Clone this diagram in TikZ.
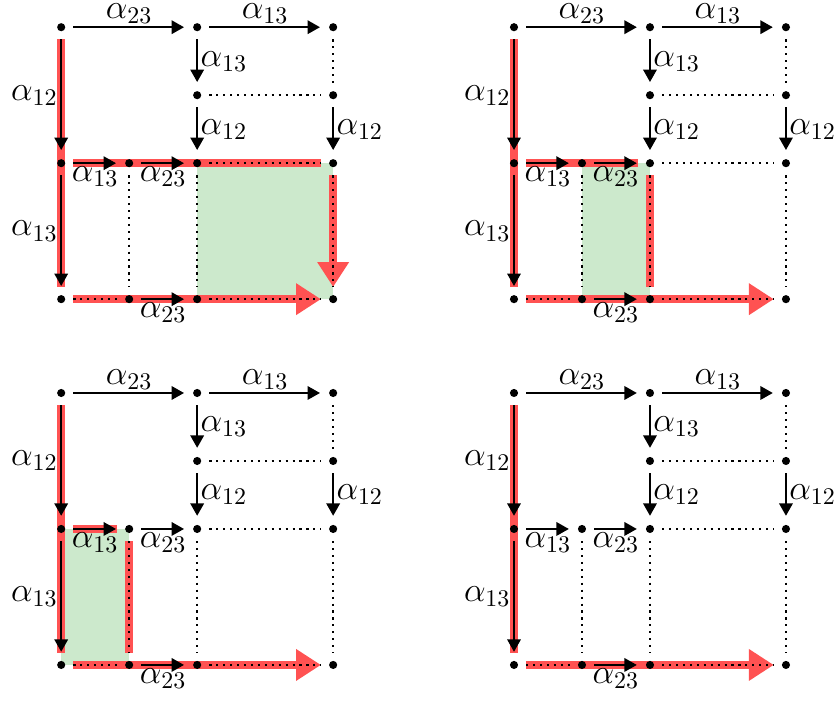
\documentclass[tikz,border=0pt]{standalone}
\usepackage{amsmath}
\usepackage{tikz}
\usetikzlibrary{arrows.meta,backgrounds}
\definecolor{hlred}{RGB}{255,82,82}
\definecolor{regiongreen}{RGB}{204,233,204}

% one grid panel: #1 name prefix, #2 #3 position of its top-left dot
\newcommand{\gridpanel}[3]{%
  \begin{scope}[shift={(#2,#3)}]
    \node[dot] (#1r0c0) at (0,0) {};
    \node[dot] (#1r0c2) at (2,0) {};
    \node[dot] (#1r0c3) at (4,0) {};
    \node[dot] (#1r1c2) at (2,-1) {};
    \node[dot] (#1r1c3) at (4,-1) {};
    \node[dot] (#1r2c0) at (0,-2) {};
    \node[dot] (#1r2c1) at (1,-2) {};
    \node[dot] (#1r2c2) at (2,-2) {};
    \node[dot] (#1r2c3) at (4,-2) {};
    \node[dot] (#1r3c0) at (0,-4) {};
    \node[dot] (#1r3c1) at (1,-4) {};
    \node[dot] (#1r3c2) at (2,-4) {};
    \node[dot] (#1r3c3) at (4,-4) {};
  \end{scope}
  \draw[arr] (#1r0c0) -- node[lbl, above] {$\alpha_{23}$} (#1r0c2);
  \draw[arr] (#1r0c2) -- node[lbl, above] {$\alpha_{13}$} (#1r0c3);
  \draw[arr] (#1r0c0) -- node[lbl, left]  {$\alpha_{12}$} (#1r2c0);
  \draw[arr] (#1r0c2) -- node[lbl, right] {$\alpha_{13}$} (#1r1c2);
  \draw[arr] (#1r1c2) -- node[lbl, right] {$\alpha_{12}$} (#1r2c2);
  \draw[arr] (#1r1c3) -- node[lbl, right] {$\alpha_{12}$} (#1r2c3);
  \draw[arr] (#1r2c0) -- node[lbl, below] {$\alpha_{13}$} (#1r2c1);
  \draw[arr] (#1r2c1) -- node[lbl, below] {$\alpha_{23}$} (#1r2c2);
  \draw[arr] (#1r2c0) -- node[lbl, left]  {$\alpha_{13}$} (#1r3c0);
  \draw[arr] (#1r3c1) -- node[lbl, below] {$\alpha_{23}$} (#1r3c2);
  \draw[dotline] (#1r0c3) -- (#1r1c3);
  \draw[dotline] (#1r1c2) -- (#1r1c3);
  \draw[dotline] (#1r2c2) -- (#1r2c3);
  \draw[dotline] (#1r2c1) -- (#1r3c1);
  \draw[dotline] (#1r2c2) -- (#1r3c2);
  \draw[dotline] (#1r2c3) -- (#1r3c3);
  \draw[dotline] (#1r3c0) -- (#1r3c1);
  \draw[dotline] (#1r3c2) -- (#1r3c3);
}

\begin{document}
\begin{tikzpicture}[
  font=\Large,
  dot/.style={circle, fill=black, inner sep=0pt, minimum size=3.4pt},
  arr/.style={-{Triangle[length=5.2pt, width=5.6pt]}, line width=0.9pt, shorten <=3.2pt, shorten >=3.6pt},
  dotline/.style={line width=0.9pt, dotted, shorten <=3.2pt, shorten >=3.2pt},
  lbl/.style={inner sep=1pt},
  hl/.style={draw=hlred, line width=3.4pt, shorten <=3.2pt, shorten >=3.2pt},
  hlarr/.style={hl, -{Triangle[length=10.4pt, width=12.6pt]}},
  region/.style={fill=regiongreen},
]
\useasboundingbox (-0.9,0.4) rectangle (11.44,-9.9);

% ============================================================
% FOUR PANELS
% ============================================================
\def\xa{0}\def\xb{6.66}
\def\ya{0}\def\yb{-5.38}

\gridpanel{A}{\xa}{\ya}
\gridpanel{B}{\xb}{\ya}
\gridpanel{C}{\xa}{\yb}
\gridpanel{D}{\xb}{\yb}

% ============================================================
% HIGHLIGHTED PATHS (behind the grid)
% ============================================================
\begin{scope}[on background layer]
  % top left
  \fill[region] (Ar2c2.center) rectangle (Ar3c3.center);
  \draw[hl] (Ar0c0) -- (Ar3c0);
  \draw[hl] (Ar2c0) -- (Ar2c3);
  \draw[hlarr] (Ar2c3) -- (Ar3c3);
  \draw[hlarr] (Ar3c0) -- (Ar3c3);

  % top right
  \fill[region] (Br2c1.center) rectangle (Br3c2.center);
  \draw[hl] (Br0c0) -- (Br3c0);
  \draw[hl] (Br2c0) -- (Br2c2);
  \draw[hl] (Br2c2) -- (Br3c2);
  \draw[hlarr] (Br3c0) -- (Br3c3);

  % bottom left
  \fill[region] (Cr2c0.center) rectangle (Cr3c1.center);
  \draw[hl] (Cr0c0) -- (Cr3c0);
  \draw[hl] (Cr2c0) -- (Cr2c1);
  \draw[hl] (Cr2c1) -- (Cr3c1);
  \draw[hlarr] (Cr3c0) -- (Cr3c3);

  % bottom right
  \draw[hl] (Dr0c0) -- (Dr3c0);
  \draw[hlarr] (Dr3c0) -- (Dr3c3);
\end{scope}

\end{tikzpicture}
\end{document}
